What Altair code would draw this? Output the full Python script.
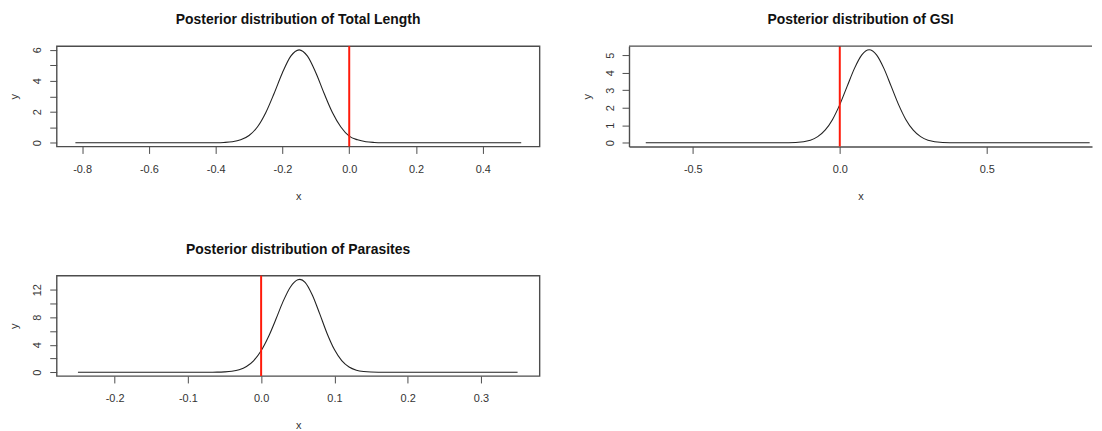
import altair as alt
import pandas as pd

FONT = "Liberation Sans"

# ---------------- data ----------------
titles = ["Posterior distribution of Total Length",
          "Posterior distribution of GSI",
          "Posterior distribution of Parasites"]

# Total Length
tl_x = [-0.82, -0.6, -0.45, -0.40, -0.375, -0.35, -0.325, -0.30, -0.275, -0.25,
        -0.225, -0.20, -0.175, -0.15, -0.125, -0.10, -0.075, -0.05, -0.025, 0.0,
        0.025, 0.05, 0.075, 0.10, 0.15, 0.30, 0.515]
tl_y = [0.0, 0.0, 0.0, 0.005, 0.02, 0.065, 0.19, 0.47, 1.02, 1.94,
        3.18, 4.52, 5.59, 6.0, 5.59, 4.52, 3.18, 1.94, 1.02, 0.43,
        0.19, 0.065, 0.02, 0.005, 0.0, 0.0, 0.0]

# GSI
gsi_x = [-0.66, -0.4, -0.25, -0.2, -0.15, -0.1, -0.075, -0.05, -0.025, 0.0,
         0.025, 0.05, 0.075, 0.1, 0.125, 0.15, 0.175, 0.2, 0.225, 0.25,
         0.275, 0.3, 0.35, 0.4, 0.6, 0.85]
gsi_y = [0.0, 0.0, 0.0, 0.002, 0.02, 0.15, 0.35, 0.72, 1.32, 2.18,
         3.22, 4.25, 5.02, 5.31, 5.02, 4.25, 3.22, 2.18, 1.32, 0.72,
         0.35, 0.15, 0.02, 0.002, 0.0, 0.0]

# Parasites
par_x = [-0.25, -0.12, -0.08, -0.06, -0.05, -0.04, -0.03, -0.02, -0.01, 0.0,
         0.01, 0.02, 0.03, 0.04, 0.045, 0.05, 0.053, 0.06, 0.07, 0.08,
         0.09, 0.10, 0.11, 0.12, 0.13, 0.14, 0.15, 0.17, 0.25, 0.35]
par_y = [0.0, 0.0, 0.001, 0.017, 0.054, 0.15, 0.38, 0.85, 1.71, 3.13,
         5.16, 7.66, 10.3, 12.4, 13.06, 13.45, 13.5, 13.08, 11.2, 8.48,
         5.64, 3.3, 1.70, 0.77, 0.31, 0.108, 0.033, 0.002, 0.0, 0.0]

# axis ticks
tl_xticks = [-0.8, -0.6, -0.4, -0.2, 0.0, 0.2, 0.4]
tl_yticks = [0, 1, 2, 3, 4, 5, 6]
gsi_xticks = [-0.5, 0.0, 0.5]
gsi_yticks = [0, 1, 2, 3, 4, 5]
par_xticks = [-0.2, -0.1, 0.0, 0.1, 0.2, 0.3]
par_yticks = [0, 2, 4, 6, 8, 10, 12]

ref_x = [0.0]

BOX = "#4d4d4d"
XLAB = "replace(format(datum.value, '.1f'), '\u2212', '-')"


def panel(xs, ys, title, xdom, ydom, xticks, yticks, ylabexpr, w, h, open_right=False):
    df = pd.DataFrame({"x": xs, "y": ys})
    xsc = alt.Scale(domain=xdom, nice=False, zero=False)
    ysc = alt.Scale(domain=ydom, nice=False, zero=False)
    xaxis = alt.Axis(values=xticks, labelExpr=XLAB, title="x", labelFlush=False,
                     labelOverlap=False, labelPadding=10, titlePadding=16,
                     domain=open_right, domainColor=BOX, domainWidth=1.4, grid=False)
    yaxis = alt.Axis(values=yticks, labelExpr=ylabexpr, title="y", labelAngle=-90,
                     labelAlign="center", labelBaseline="alphabetic",
                     labelFlush=False, labelOverlap=False, labelPadding=9,
                     titlePadding=12, domain=open_right, domainColor=BOX,
                     domainWidth=1.4, grid=False)
    line = alt.Chart(df).mark_line(color="#222222", strokeWidth=1.1,
                                   interpolate="monotone", clip=True).encode(
        x=alt.X("x:Q", scale=xsc, axis=xaxis),
        y=alt.Y("y:Q", scale=ysc, axis=yaxis),
    )
    rule = alt.Chart(pd.DataFrame({"x": ref_x})).mark_rule(
        color="#ff1a0a", strokeWidth=2).encode(x=alt.X("x:Q", scale=xsc))
    layers = [line, rule]
    if open_right:
        top = alt.Chart(pd.DataFrame({"x": ref_x})).mark_rule(
            color=BOX, strokeWidth=1.4).encode(
            x=alt.value(0), x2=alt.value(w), y=alt.value(0))
        layers.append(top)
    ch = alt.layer(*layers).properties(
        width=w, height=h,
        title=alt.TitleParams(text=title, font=FONT, fontSize=14,
                              fontWeight="bold", color="#111111",
                              anchor="middle", frame="group", offset=18),
    )
    if open_right:
        ch = ch.properties(view=alt.ViewBackground(stroke="transparent"))
    return ch


p1 = panel(tl_x, tl_y, titles[0], [-0.876, 0.570], [-0.24, 6.24],
           tl_xticks, tl_yticks, "datum.value % 2 == 0 ? datum.label : ''", 486, 101)
p2 = panel(gsi_x, gsi_y, titles[1], [-0.717, 0.858], [-0.21, 5.52],
           gsi_xticks, gsi_yticks, "datum.label", 466, 101, open_right=True)
p3 = panel(par_x, par_y, titles[2], [-0.279, 0.380], [-0.54, 14.04],
           par_xticks, par_yticks, "datum.value % 4 == 0 ? datum.label : ''", 486, 101)

chart = alt.vconcat(
    alt.hconcat(p1, p2, spacing=40),
    p3,
    spacing=40,
).properties(
    padding={"left": 0, "top": 3, "right": 0, "bottom": 0},
    background="white",
).configure_view(
    stroke=BOX, strokeWidth=1.4
).configure_axis(
    grid=False, tickColor=BOX, tickSize=7, tickWidth=1,
    labelFont=FONT, labelFontSize=11, labelColor="#333333",
    titleFont=FONT, titleFontSize=11, titleFontWeight="normal", titleColor="#333333",
)

chart.save("out.html", embed_options={"renderer": "svg", "actions": False})
